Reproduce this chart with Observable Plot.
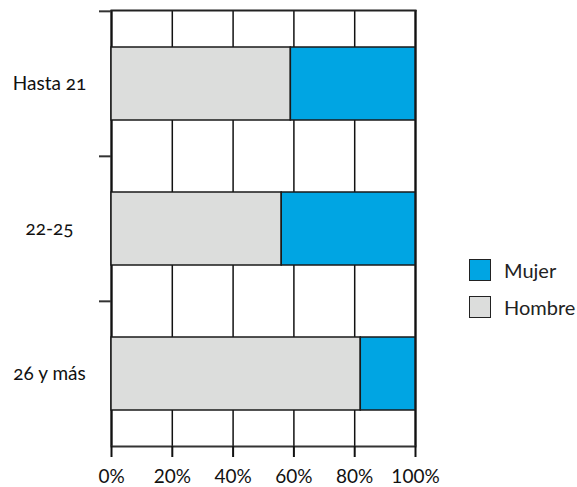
<!DOCTYPE html>
<html><head><meta charset="utf-8">
<script src="https://cdn.jsdelivr.net/npm/d3@7"></script>
<script src="https://cdn.jsdelivr.net/npm/@observablehq/plot@0.6"></script>
<style>
body{margin:0;background:#fff;}
#wrap{position:relative;width:577px;height:487px;font-family:Lato,"Open Sans",sans-serif;font-variant-numeric:oldstyle-nums;}
.legend{position:absolute;left:469px;top:258px;font-size:20px;color:#222;}
.item{display:flex;align-items:center;height:23px;margin-bottom:14px;}
.sw{width:20px;height:20px;border:1.5px solid #222;margin-right:13px;box-sizing:content-box;}
</style></head><body><div id="wrap"></div>
<script>
const categories = ["Hasta 21", "22-25", "26 y más"];
const series = ["Hombre", "Mujer"];
const hombre = [59, 56, 82];
const mujer = [41, 44, 18];
const xTicks = [0, 20, 40, 60, 80, 100];
const colors = ["#dcdddc", "#00a5e3"];

const rows = categories.flatMap((c, i) => [
  {cat: c, sex: "Hombre", value: hombre[i]},
  {cat: c, sex: "Mujer", value: mujer[i]}
]);

const W = 577, H = 487, mt = 10, mb = 41, ml = 111, mr = 162;
const bandH = (H - mt - mb) / categories.length;
const pct = d => d + "%";

const chart = Plot.plot({
  width: W, height: H,
  marginTop: mt, marginBottom: mb, marginLeft: ml, marginRight: mr,
  style: {fontFamily: "Lato, 'Open Sans', sans-serif", fontSize: "19px", color: "#111", background: "white", overflow: "visible", fontVariantNumeric: "oldstyle-nums"},
  x: {domain: [0, 100], ticks: xTicks, tickFormat: pct},
  y: {domain: categories, padding: 0},
  color: {domain: series, range: colors},
  marks: [
    Plot.ruleX(xTicks, {stroke: "#111", strokeWidth: 1.5}),
    Plot.ruleX([0, 100], {stroke: "#111", strokeWidth: 2.2}),
    Plot.barX(rows, {y: "cat", x: "value", fill: "sex", stroke: "#1a1a1a", strokeWidth: 1.5, insetTop: 36, insetBottom: 36}),
    Plot.frame({anchor: "top", stroke: "#222", strokeWidth: 2}),
    Plot.frame({anchor: "bottom", stroke: "#333", strokeWidth: 2}),
    Plot.axisX({ticks: xTicks, tickSize: 11, tickPadding: 12, tickFormat: pct, label: null, strokeWidth: 2, fontSize: 19}),
    Plot.axisY({tickSize: 0, tickPadding: 62, textAnchor: "middle", label: null, fontSize: 19}),
    Plot.axisY({tickSize: 12, tickFormat: () => "", dy: -bandH / 2, label: null, stroke: "#333", strokeWidth: 2})
  ]
});

const wrap = document.getElementById("wrap");
wrap.appendChild(chart);
const legend = document.createElement("div");
legend.className = "legend";
[["Mujer", colors[1]], ["Hombre", colors[0]]].forEach(([name, col]) => {
  const it = document.createElement("div");
  it.className = "item";
  const sw = document.createElement("div");
  sw.className = "sw";
  sw.style.background = col;
  const t = document.createElement("span");
  t.textContent = name;
  it.appendChild(sw); it.appendChild(t);
  legend.appendChild(it);
});
wrap.appendChild(legend);
</script></body></html>
